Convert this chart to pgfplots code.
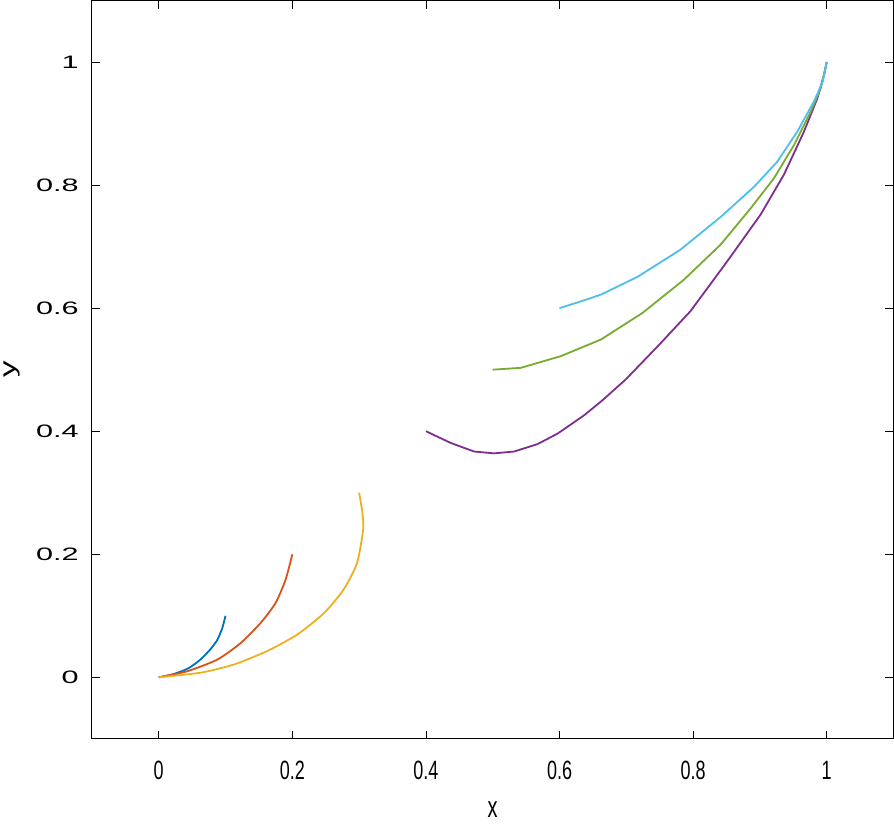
\documentclass[border={3bp 5bp 0bp 0bp}]{standalone}
\usepackage{pgfplots}
\pgfplotsset{compat=1.18}
\usepackage{fontspec}
\setmainfont{Liberation Sans}
\definecolor{c1}{rgb}{0,0.447,0.741}
\definecolor{c2}{rgb}{0.85,0.325,0.098}
\definecolor{c3}{rgb}{0.929,0.694,0.125}
\definecolor{c4}{rgb}{0.494,0.184,0.556}
\definecolor{c5}{rgb}{0.466,0.674,0.188}
\definecolor{c6}{rgb}{0.301,0.745,0.933}
\begin{document}
\fontsize{18}{22}\selectfont
\begin{tikzpicture}
\begin{axis}[
  width=799bp, height=736bp, scale only axis,
  xmin=-0.1, xmax=1.1, ymin=-0.1, ymax=1.1,
  xtick={0,0.2,0.4,0.6,0.8,1}, ytick={0,0.2,0.4,0.6,0.8,1},
  tick align=inside, major tick length=8bp,
  axis line style={line width=1bp},
  every tick/.style={line width=0.8bp, black},
  /pgf/number format/assume math mode=true,
  ticklabel style={font=\fontsize{18}{22}\selectfont},
  xticklabel={\scalebox{1}[1.47]{\pgfmathprintnumber{\tick}}},
  yticklabel={\scalebox{1.7}[1]{\pgfmathprintnumber{\tick}}},
  xticklabel style={yshift=-16bp},
  yticklabel style={xshift=-7bp},
  xlabel={\scalebox{1}[1.5]{x}}, ylabel={\scalebox{1.5}[1]{y}},
  xlabel style={font=\fontsize{20}{24}\selectfont, at={(axis description cs:0.5,-0.083)}, anchor=north, inner sep=1pt},
  ylabel style={font=\fontsize{22}{26}\selectfont, at={(axis description cs:-0.088,0.5)}, anchor=south, inner sep=1pt},
  every axis plot/.append style={line width=1.8bp},
]
\addplot[c1, smooth, tension=0.4] coordinates {(0,0) (0.0215,0.005) (0.044,0.0145) (0.0615,0.028) (0.0765,0.0445) (0.0875,0.0605) (0.095,0.0795) (0.1,0.1)};
\addplot[c2, smooth, tension=0.4] coordinates {(0,0) (0.043,0.010) (0.088,0.029) (0.123,0.056) (0.153,0.089) (0.175,0.121) (0.190,0.159) (0.2,0.2)};
\addplot[c3, smooth, tension=0.4] coordinates {(0,0) (0.063,0.0076) (0.113,0.021) (0.163,0.043) (0.208,0.070) (0.248,0.105) (0.277,0.143) (0.297,0.186) (0.306,0.240) (0.305,0.267) (0.3,0.3)};
\addplot[c4] coordinates {(0.4,0.4) (0.437,0.381) (0.472,0.367) (0.502,0.364) (0.532,0.367) (0.567,0.379) (0.597,0.396) (0.637,0.426) (0.664,0.450) (0.699,0.484) (0.747,0.538) (0.796,0.595) (0.851,0.676) (0.901,0.752) (0.936,0.817) (0.966,0.887) (0.986,0.941) (0.996,0.979) (1,1)};
\addplot[c5] coordinates {(0.5,0.5) (0.542,0.503) (0.602,0.522) (0.662,0.549) (0.724,0.592) (0.786,0.646) (0.841,0.703) (0.886,0.762) (0.921,0.811) (0.951,0.865) (0.976,0.919) (0.991,0.957) (0.998,0.990) (1,1)};
\addplot[c6] coordinates {(0.6,0.6) (0.632,0.611) (0.662,0.622) (0.717,0.651) (0.781,0.695) (0.841,0.748) (0.891,0.797) (0.926,0.838) (0.956,0.887) (0.981,0.936) (0.994,0.968) (1,1)};
\end{axis}
\end{tikzpicture}
\end{document}
